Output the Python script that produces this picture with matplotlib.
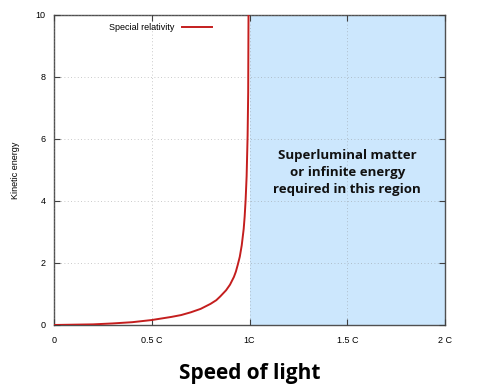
import matplotlib
matplotlib.use("Agg")
import matplotlib.pyplot as plt

# speed as fraction of c, and kinetic energy
speed = [0, 0.1, 0.2, 0.3, 0.4, 0.5, 0.6, 0.65, 0.7, 0.75, 0.8, 0.83, 0.85, 0.88, 0.9,
         0.92, 0.93, 0.94, 0.95, 0.96, 0.97, 0.975, 0.98, 0.985, 0.99, 0.993, 0.995]
energy = [0, 0.01, 0.02, 0.05, 0.09, 0.16, 0.26, 0.32, 0.41, 0.52, 0.68, 0.8, 0.92, 1.12, 1.3,
          1.55, 1.72, 1.95, 2.2, 2.57, 3.1, 3.5, 4.05, 4.8, 6.1, 7.5, 10.5]

xticks = [0, 0.5, 1, 1.5, 2]
xlabels = ["0", "0.5 C", "1C", "1.5 C", "2 C"]
yticks = [0, 2, 4, 6, 8, 10]

plt.rcParams['font.family'] = ['Liberation Sans', 'DejaVu Sans']

fig = plt.figure(figsize=(4.86, 3.90), dpi=100)
ax = fig.add_axes([0.111, 0.1667, 0.805, 0.795])

ax.axvspan(1, 2, color='#cce7fd', zorder=1, lw=0)
ax.plot(speed, energy, color='#c41e1e', lw=1.4, label='Special relativity', zorder=3)

ax.set_xlim(0, 2)
ax.set_ylim(0, 10)
ax.set_xticks(xticks)
ax.set_xticklabels(xlabels)
ax.set_yticks(yticks)
ax.tick_params(direction='in', labelsize=6.5, length=4, width=0.8, color='#404040',
               top=True, right=True, pad=6)
ax.tick_params(axis='x', pad=8)
ax.grid(True, color='#8a8a8a', linestyle=(0, (1, 3)), lw=0.6, alpha=0.6, zorder=2)
ax.set_axisbelow(False)
for s in ax.spines.values():
    s.set_color('#505050')
    s.set_linewidth(1.0)

ax.set_ylabel('Kinetic energy', fontsize=6.5, labelpad=11)
ax.set_xlabel('Speed of light', fontsize=15, fontweight='bold',
              family=['Open Sans', 'DejaVu Sans'], labelpad=13)

ax.text(1.5, 4.93, 'Superluminal matter\nor infinite energy\nrequired in this region',
        ha='center', va='center', fontsize=9.5, fontweight='bold',
        family=['Open Sans', 'DejaVu Sans'], linespacing=1.4, color='#111111', zorder=4)

leg = ax.legend(loc='upper left', bbox_to_anchor=(0.12, 1.0), frameon=False,
                markerfirst=False, fontsize=6.5, handlelength=3.4, handletextpad=0.8)

fig.savefig('out.png', dpi=100)
